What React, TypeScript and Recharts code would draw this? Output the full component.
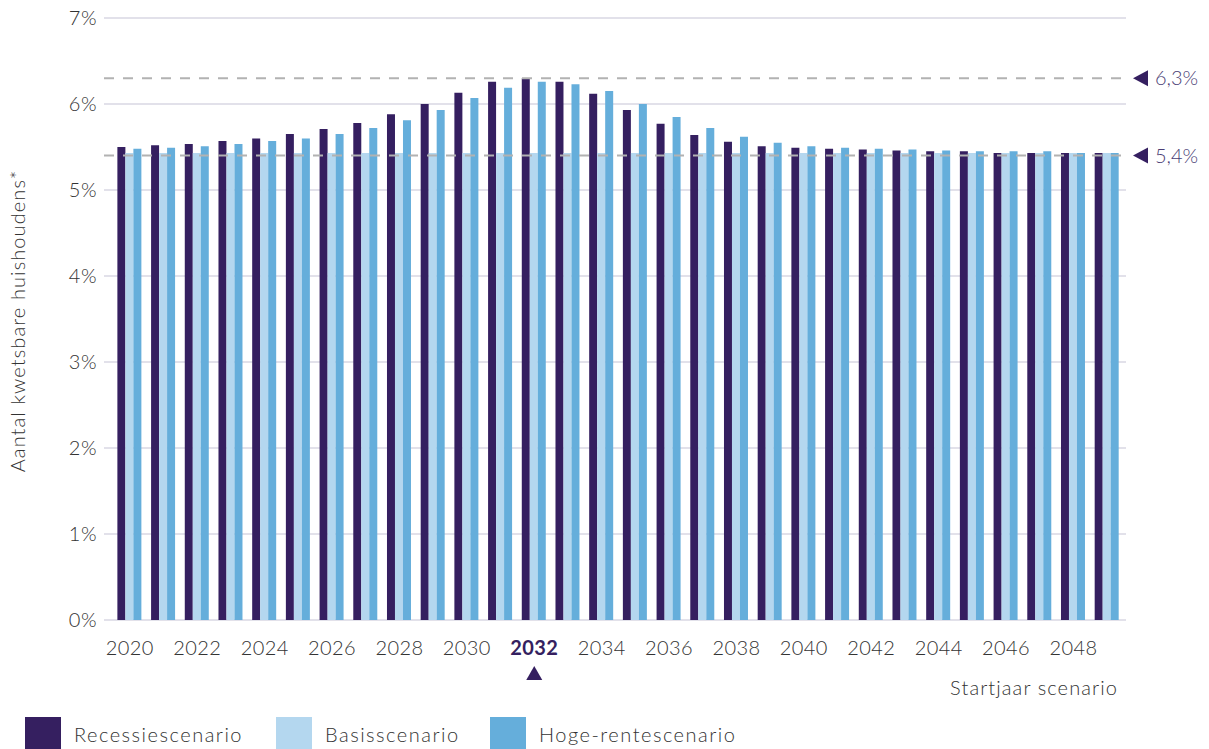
import React from "react";
import {
  BarChart,
  Bar,
  XAxis,
  YAxis,
  CartesianGrid,
  ReferenceLine,
} from "recharts";

const years = [
  "2020", "2021", "2022", "2023", "2024", "2025", "2026", "2027", "2028", "2029",
  "2030", "2031", "2032", "2033", "2034", "2035", "2036", "2037", "2038", "2039",
  "2040", "2041", "2042", "2043", "2044", "2045", "2046", "2047", "2048", "2049",
];

const recessie = [
  5.5, 5.52, 5.535, 5.57, 5.6, 5.65, 5.71, 5.78, 5.88, 6.0,
  6.13, 6.26, 6.3, 6.26, 6.12, 5.93, 5.77, 5.64, 5.56, 5.51,
  5.49, 5.48, 5.47, 5.46, 5.45, 5.45, 5.43, 5.43, 5.43, 5.43,
];

const basis = [
  5.43, 5.43, 5.43, 5.43, 5.43, 5.43, 5.43, 5.43, 5.43, 5.43,
  5.43, 5.43, 5.43, 5.43, 5.43, 5.43, 5.43, 5.43, 5.43, 5.43,
  5.43, 5.43, 5.43, 5.43, 5.43, 5.43, 5.43, 5.43, 5.43, 5.43,
];

const hoge = [
  5.48, 5.49, 5.51, 5.535, 5.57, 5.6, 5.65, 5.72, 5.81, 5.93,
  6.07, 6.19, 6.26, 6.23, 6.15, 6.0, 5.85, 5.72, 5.62, 5.55,
  5.51, 5.49, 5.48, 5.47, 5.46, 5.45, 5.45, 5.45, 5.43, 5.43,
];

const yTicks = [0, 1, 2, 3, 4, 5, 6, 7];
const highlightYear = "2032";
const refValues = [
  { value: 6.3, label: "6,3%" },
  { value: 5.4, label: "5,4%" },
];

const seriesNames = ["Recessiescenario", "Basisscenario", "Hoge-rentescenario"];
const colors = ["#351f60", "#b4d7ef", "#65aedb"];

const data = years.map((y, i) => ({
  year: y,
  recessie: recessie[i],
  basis: basis[i],
  hoge: hoge[i],
}));

const FONT = "Lato, 'Open Sans', sans-serif";
const TEXT = "#333333";
const PURPLE = "#351f60";
const LS = 1.1;

const XTick = (props: any) => {
  const { x, payload } = props;
  const isHi = payload.value === highlightYear;
  return (
    <g>
      <text
        x={x}
        y={655}
        textAnchor="middle"
        fontFamily={FONT}
        fontSize={20}
        letterSpacing={0.4}
        fontWeight={isHi ? 700 : 300}
        fill={isHi ? PURPLE : TEXT}
      >
        {payload.value}
      </text>
      {isHi && (
        <polygon
          points={`${x - 8},680 ${x + 8},680 ${x},666`}
          fill={PURPLE}
        />
      )}
    </g>
  );
};

const YTick = (props: any) => {
  const { y, payload } = props;
  return (
    <text
      x={97}
      y={y}
      dy="0.36em"
      textAnchor="end"
      fontFamily={FONT}
      fontSize={20}
      letterSpacing={0.5}
      fontWeight={300}
      fill={TEXT}
    >
      {`${payload.value}%`}
    </text>
  );
};

const makeRefLabel = (text: string) => (props: any) => {
  const vb = props.viewBox || {};
  const xe = (vb.x || 0) + (vb.width || 0);
  const y = vb.y || 0;
  return (
    <g>
      <polygon
        points={`${xe + 7},${y} ${xe + 22},${y - 8} ${xe + 22},${y + 8}`}
        fill={PURPLE}
      />
      <text
        x={xe + 29}
        y={y}
        dy="0.36em"
        fontFamily={FONT}
        fontSize={20}
        fontWeight={300}
        fill="#4a3d74"
      >
        {text}
      </text>
    </g>
  );
};

const YLabel = () => (
  <text
    x={25}
    y={321}
    textAnchor="middle"
    transform="rotate(-90, 25, 321)"
    fontFamily={FONT}
    fontSize={20}
    letterSpacing={LS}
    fontWeight={300}
    fill={TEXT}
  >
    Aantal kwetsbare huishoudens*
  </text>
);

const XLabel = () => (
  <text
    x={1118}
    y={695}
    textAnchor="end"
    fontFamily={FONT}
    fontSize={20}
    letterSpacing={LS}
    fontWeight={300}
    fill={TEXT}
  >
    Startjaar scenario
  </text>
);

const legendPos = [25, 276, 490];

export default function App() {
  return (
    <div
      style={{
        position: "absolute",
        left: 0,
        top: 0,
        width: 1209,
        height: 749,
        overflow: "hidden",
        background: "#ffffff",
      }}
    >
      <BarChart
        width={1209}
        height={749}
        data={data}
        margin={{ top: 18, right: 83, bottom: 99, left: 0 }}
        barCategoryGap="13%"
        barGap={0}
      >
        <CartesianGrid
          vertical={false}
          stroke="#e2e1ea"
          strokeWidth={2}
        />
        <XAxis
          dataKey="year"
          interval={1}
          height={30}
          axisLine={false}
          tickLine={false}
          padding={{ left: 9, right: 2 }}
          tick={<XTick />}
          label={<XLabel />}
        />
        <YAxis
          width={104}
          domain={[0, 7]}
          ticks={yTicks}
          axisLine={false}
          tickLine={false}
          tick={<YTick />}
          label={<YLabel />}
        />
        <Bar dataKey="recessie" fill={colors[0]} isAnimationActive={false} />
        <Bar dataKey="basis" fill={colors[1]} isAnimationActive={false} />
        <Bar dataKey="hoge" fill={colors[2]} isAnimationActive={false} />
        {refValues.map((r) => (
          <ReferenceLine
            key={r.label}
            y={r.value}
            stroke="#b2b2b2"
            strokeWidth={2}
            strokeDasharray="10 9"
            label={makeRefLabel(r.label)}
          />
        ))}
      </BarChart>
      {seriesNames.map((name, i) => (
        <div
          key={name}
          style={{
            position: "absolute",
            left: legendPos[i],
            top: 717,
            display: "flex",
            alignItems: "center",
            fontFamily: FONT,
            fontWeight: 300,
            fontSize: 20,
            letterSpacing: 1.5,
            color: TEXT,
          }}
        >
          <div
            style={{
              width: 36,
              height: 33,
              background: colors[i],
              marginRight: 13,
            }}
          />
          <span>{name}</span>
        </div>
      ))}
    </div>
  );
}
